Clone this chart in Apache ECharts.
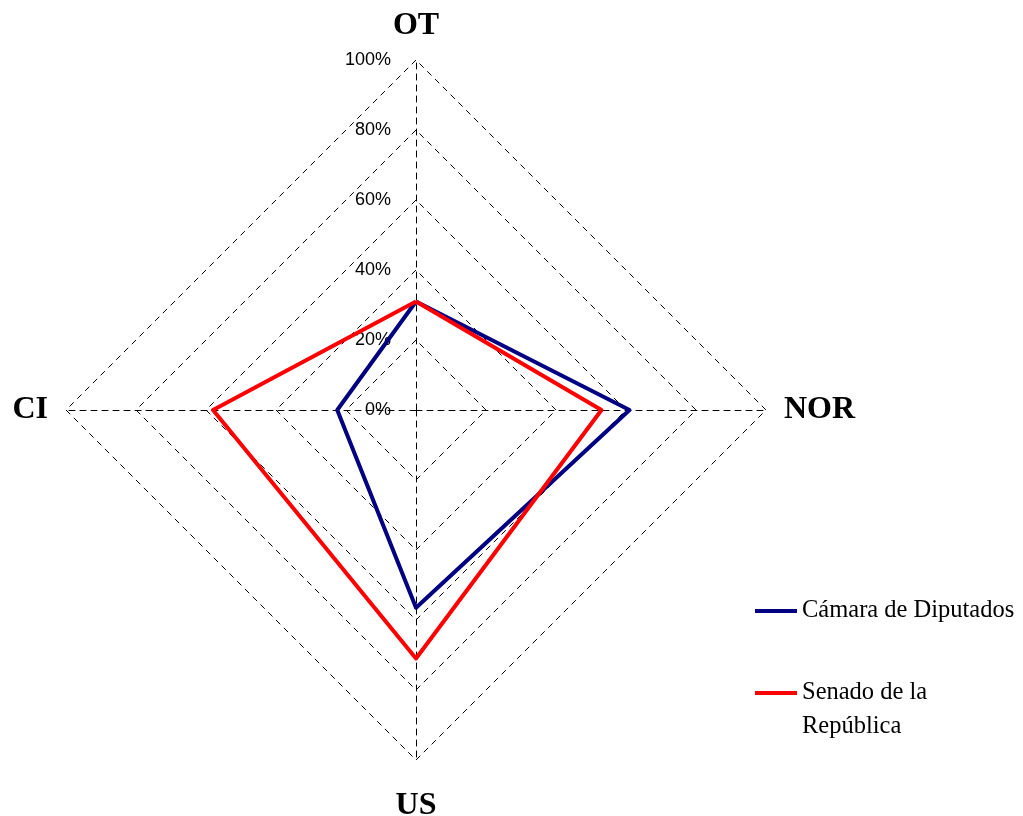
<!DOCTYPE html>
<html>
<head>
<meta charset="utf-8">
<script src="https://cdn.jsdelivr.net/npm/echarts@6/dist/echarts.min.js"></script>
<style>
html,body{margin:0;padding:0;background:#fff;}
#chart{width:1023px;height:816px;}
</style>
</head>
<body>
<div id="chart"></div>
<script>
// Indicators in drawing order (ECharts goes round counterclockwise from the top)
const categories = ['OT', 'CI', 'US', 'NOR'];
const maxValue = 100;
const seriesNames = ['Cámara de Diputados', 'Senado de la República'];
// leading empty line keeps the first text line level with the legend line
const legendLabels = ['Cámara de Diputados', '\nSenado de la\nRepública'];
const camaraValues = [31, 22.5, 56.5, 61];
const senadoValues = [31, 58, 71, 53];
const tickLabelFormat = '{value}%';

const chart = echarts.init(document.getElementById('chart'), null, {renderer: 'canvas'});

const indicators = categories.map((c, i) => {
  const ind = {name: c, max: maxValue, min: 0};
  if (i === 0) ind.axisLabel = {show: true};
  return ind;
});

const serifFont = '"Liberation Serif", "Times New Roman", serif';
const legendBase = {
  orient: 'vertical',
  left: 755,
  padding: 0,
  itemWidth: 42,
  itemHeight: 26,
  icon: 'path://M0,11 L42,11 L42,15 L0,15 Z',
  itemStyle: {borderWidth: 0},
  formatter: function (n) { return legendLabels[seriesNames.indexOf(n)]; }
};

const option = {
  backgroundColor: '#ffffff',
  animation: false,
  legend: [
    Object.assign({}, legendBase, {
      top: 598,
      data: [{name: seriesNames[0], itemStyle: {color: '#000080'}}],
      textStyle: {fontFamily: serifFont, fontSize: 24.5, color: '#000', lineHeight: 26}
    }),
    Object.assign({}, legendBase, {
      top: 642,
      data: [{name: seriesNames[1], itemStyle: {color: '#ff0000'}}],
      textStyle: {fontFamily: serifFont, fontSize: 24.5, color: '#000', lineHeight: 34}
    })
  ],
  radar: {
    center: [416, 410],
    radius: 350,
    startAngle: 90,
    shape: 'polygon',
    splitNumber: 5,
    indicator: indicators,
    axisName: {
      color: '#000',
      fontFamily: serifFont,
      fontWeight: 'bold',
      fontSize: 32,
      formatter: function (n) { return n === 'US' ? '{us|' + n + '}' : n; },
      rich: {us: {lineHeight: 56, fontFamily: serifFont, fontWeight: 'bold', fontSize: 32, color: '#000'}}
    },
    nameGap: 18,
    axisLine: {lineStyle: {color: '#000', width: 1, type: [6, 5]}},
    splitLine: {lineStyle: {color: '#000', width: 1, type: [6, 5]}},
    splitArea: {show: false},
    axisTick: {show: false},
    axisLabel: {
      show: false,
      formatter: tickLabelFormat,
      color: '#000',
      fontFamily: '"Liberation Sans", Arial, sans-serif',
      fontSize: 18,
      margin: 25
    }
  },
  series: [{
    type: 'radar',
    symbol: 'none',
    data: [
      {name: seriesNames[0], value: camaraValues, lineStyle: {color: '#000080', width: 4}, itemStyle: {color: '#000080'}},
      {name: seriesNames[1], value: senadoValues, lineStyle: {color: '#ff0000', width: 4}, itemStyle: {color: '#ff0000'}}
    ]
  }]
};
chart.setOption(option);
</script>
</body>
</html>
